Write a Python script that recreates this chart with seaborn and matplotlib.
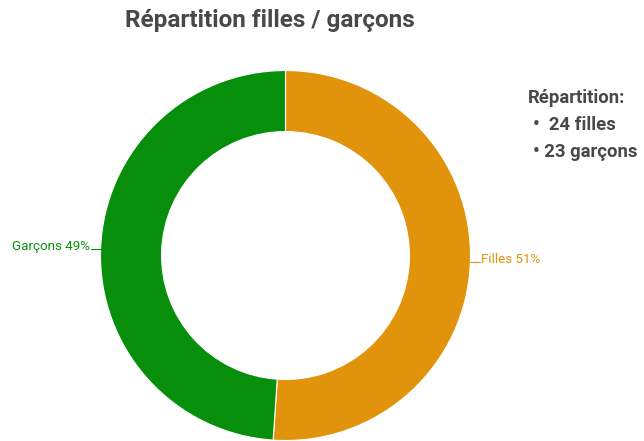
import numpy as np
import matplotlib
matplotlib.use("Agg")
import matplotlib.pyplot as plt
import seaborn as sns

# data
categories = ["Filles", "Garçons"]
counts = [24, 23]
colors = ["#E1930B", "#078F0C"]

sns.set_theme(style="white")
plt.rcParams['font.family'] = ['Roboto', 'DejaVu Sans']

fig = plt.figure(figsize=(6.44, 4.41), dpi=100)
W, H = 644, 441
cx, cy, r = 285.5, 255.5, 185
ax = fig.add_axes([(cx - r) / W, (H - cy - r) / H, 2 * r / W, 2 * r / H])

wedges, _ = ax.pie(counts, colors=colors, startangle=90, counterclock=False,
                   radius=1, wedgeprops=dict(width=0.33, edgecolor="white", linewidth=0.8))
ax.set_xlim(-1, 1)
ax.set_ylim(-1, 1)
ax.axis("off")

total = sum(counts)
lead = 10 / r
for w, cat, n, col in zip(wedges, categories, counts, colors):
    ang = np.deg2rad((w.theta1 + w.theta2) / 2)
    x, y = np.cos(ang), np.sin(ang)
    pct = round(100 * n / total)
    if x > 0:
        ax.plot([x, x + lead], [y, y], color=col, lw=0.8, clip_on=False)
        ax.text(x + lead + 0.005, y - 0.005, f"{cat} {pct}%", color=col, fontsize=9.6,
                ha="left", va="baseline", clip_on=False)
    else:
        ax.plot([x, x - lead], [y, y], color=col, lw=0.8, clip_on=False)
        ax.text(x - lead - 0.005, y - 0.005, f"{cat} {pct}%", color=col, fontsize=9.6,
                ha="right", va="baseline", clip_on=False)

fig.text(270 / W, 1 - 20 / H, "Répartition filles / garçons", ha="center", va="center",
         fontsize=17.5, fontweight="bold", color="#484848")

fig.text(528 / W, 1 - 98 / H, "Répartition:", ha="left", va="center",
         fontsize=13.3, fontweight="bold", color="#484848")
fig.text(533 / W, 1 - 125 / H, "•  " + f"{counts[0]} filles", ha="left", va="center",
         fontsize=13.3, fontweight="bold", color="#484848")
fig.text(533 / W, 1 - 152 / H, "• " + f"{counts[1]} garçons", ha="left", va="center",
         fontsize=13.3, fontweight="bold", color="#484848")

fig.savefig("out.png", dpi=100)
